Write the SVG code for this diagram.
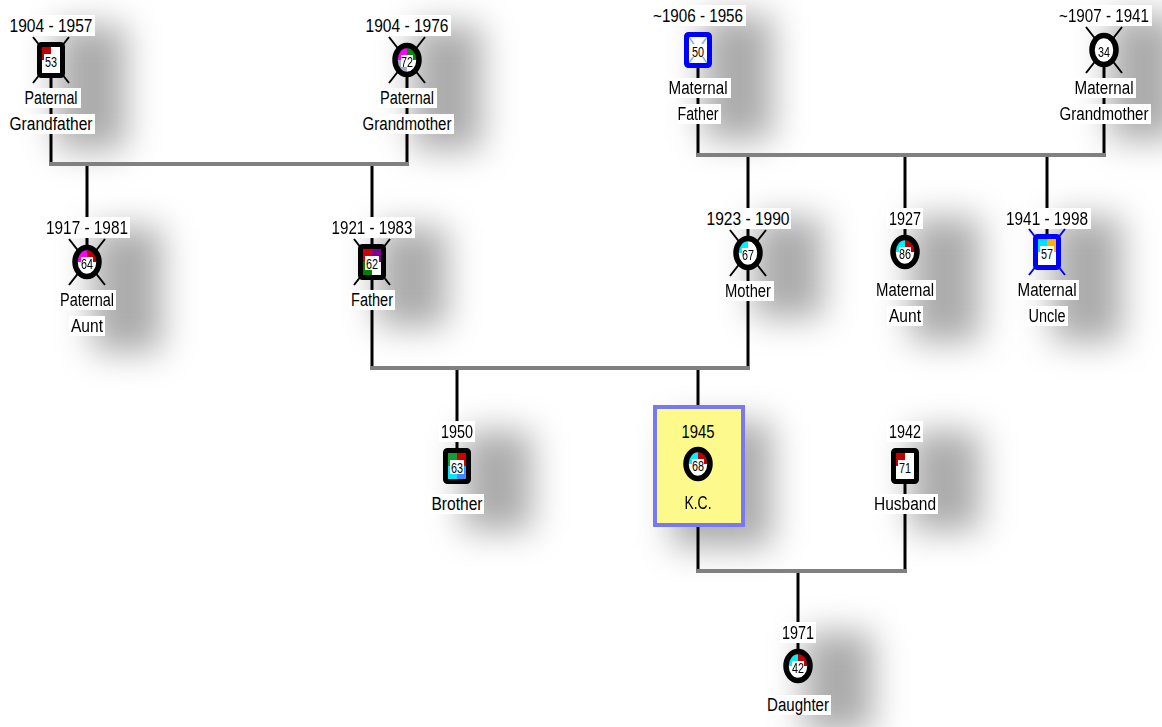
<svg xmlns="http://www.w3.org/2000/svg" xmlns:xlink="http://www.w3.org/1999/xlink" width="1162" height="727" viewBox="0 0 1162 727">
<defs>
<style>
.t{font-family:"Liberation Sans Narrow","Liberation Sans",Arial,sans-serif;font-size:18px;text-anchor:middle;fill:#000}
.n{font-family:"Liberation Sans Narrow","Liberation Sans",Arial,sans-serif;font-size:15px;text-anchor:middle;fill:#000}
.lb{fill:#fff}
.v{stroke:#000;stroke-width:3;fill:none}
.h{stroke:#808080;stroke-width:4;fill:none}
.x{stroke:#000;stroke-width:2}
.xb{stroke:#0000ff;stroke-width:2}
.mb{fill:none;stroke:#000;stroke-width:5}
.bb{fill:none;stroke:#0000ff;stroke-width:5}
.fb{fill:none;stroke:#000;stroke-width:5.5}
.sh{fill:#000;opacity:.33}
.wf{fill:#fff}
</style>
<filter id="blur" x="-100%" y="-60%" width="300%" height="220%"><feGaussianBlur stdDeviation="17"/></filter>
<clipPath id="fc"><ellipse cx="0" cy="0" rx="9.5" ry="12"/></clipPath>
<g id="xm"><line x1="-18" y1="-23" x2="18" y2="23"/><line x1="18" y1="-23" x2="-18" y2="23"/></g>
</defs>
<rect width="1162" height="727" fill="#fff"/>

<g id="shadows" filter="url(#blur)">
<rect class="sh" x="56" y="25" width="70" height="125"/>
<rect class="sh" x="412" y="25" width="70" height="125"/>
<rect class="sh" x="703" y="15" width="70" height="125"/>
<rect class="sh" x="1109" y="15" width="70" height="125"/>
<rect class="sh" x="92" y="227" width="70" height="125"/>
<rect class="sh" x="377" y="227" width="70" height="100"/>
<rect class="sh" x="753" y="218" width="70" height="100"/>
<rect class="sh" x="910" y="217" width="70" height="125"/>
<rect class="sh" x="1052" y="217" width="70" height="125"/>
<rect class="sh" x="462" y="431" width="70" height="100"/>
<rect class="sh" x="672" y="422" width="100" height="125"/>
<rect class="sh" x="910" y="431" width="70" height="100"/>
<rect class="sh" x="803" y="632" width="70" height="100"/>
</g>

<g id="connectors">
<line class="v" x1="51" y1="60" x2="51" y2="164"/>
<line class="v" x1="407" y1="60" x2="407" y2="164"/>
<line class="v" x1="87" y1="164" x2="87" y2="262"/>
<line class="v" x1="372" y1="164" x2="372" y2="368"/>
<line class="h" x1="49" y1="164" x2="409" y2="164"/>
<line class="v" x1="698" y1="50" x2="698" y2="155"/>
<line class="v" x1="1104" y1="50" x2="1104" y2="155"/>
<line class="v" x1="748" y1="155" x2="748" y2="368"/>
<line class="v" x1="905" y1="155" x2="905" y2="252"/>
<line class="v" x1="1047" y1="155" x2="1047" y2="252"/>
<line class="h" x1="696" y1="155" x2="1106" y2="155"/>
<line class="v" x1="457" y1="368" x2="457" y2="466"/>
<line class="v" x1="698" y1="368" x2="698" y2="406"/>
<line class="h" x1="370" y1="368" x2="750" y2="368"/>
<line class="v" x1="698" y1="526" x2="698" y2="571"/>
<line class="v" x1="905" y1="466" x2="905" y2="571"/>
<line class="v" x1="798" y1="571" x2="798" y2="667"/>
<line class="h" x1="696" y1="571" x2="907" y2="571"/>
</g>

<g id="paternal-grandfather">
<rect class="lb" x="8" y="15" width="87" height="21"/>
<text class="t" x="51" y="31.5" textLength="83" lengthAdjust="spacingAndGlyphs">1904 - 1957</text>
<g transform="translate(51,60)">
<use href="#xm" class="x"/>
<rect class="wf" x="-9" y="-13" width="18" height="26"/>
<rect x="-9" y="-13" width="9" height="13" fill="#c00000"/>
<rect class="mb" x="-11.5" y="-15.5" width="23" height="31" rx="2"/>
<rect class="lb" x="-7" y="-6" width="14" height="14"/>
<text class="n" x="0" y="6.5" textLength="12" lengthAdjust="spacingAndGlyphs">53</text>
</g>
<rect class="lb" x="24" y="88" width="57" height="20"/>
<text class="t" x="51" y="104" textLength="53" lengthAdjust="spacingAndGlyphs">Paternal</text>
<rect class="lb" x="8" y="114" width="87" height="20"/>
<text class="t" x="51" y="130" textLength="83" lengthAdjust="spacingAndGlyphs">Grandfather</text>
</g>

<g id="paternal-grandmother">
<rect class="lb" x="364" y="15" width="87" height="21"/>
<text class="t" x="407" y="31.5" textLength="83" lengthAdjust="spacingAndGlyphs">1904 - 1976</text>
<g transform="translate(407,60)">
<use href="#xm" class="x"/>
<g clip-path="url(#fc)">
<rect class="wf" x="-10" y="-12" width="20" height="24"/>
<rect x="-10" y="-12" width="10" height="12" fill="#ff00ff"/>
<rect x="0" y="-12" width="10" height="12" fill="#009000"/>
<rect x="-10" y="0" width="10" height="12" fill="#a4acc8"/>
</g>
<ellipse class="fb" rx="12" ry="14.5"/>
<rect class="lb" x="-6" y="-5" width="12" height="12"/>
<text class="n" x="0" y="6.5" textLength="12" lengthAdjust="spacingAndGlyphs">72</text>
</g>
<rect class="lb" x="379" y="88" width="58" height="20"/>
<text class="t" x="407" y="104" textLength="54" lengthAdjust="spacingAndGlyphs">Paternal</text>
<rect class="lb" x="361" y="114" width="93" height="20"/>
<text class="t" x="407" y="130" textLength="89" lengthAdjust="spacingAndGlyphs">Grandmother</text>
</g>

<g id="maternal-father">
<rect class="lb" x="652" y="5" width="94" height="21"/>
<text class="t" x="698" y="21.5" textLength="90" lengthAdjust="spacingAndGlyphs">~1906 - 1956</text>
<g transform="translate(698,50)">
<rect class="wf" x="-9" y="-13" width="18" height="26"/>
<line x1="-9" y1="-13" x2="9" y2="13" stroke="#80b4ff" stroke-width="1.5"/>
<line x1="9" y1="-13" x2="-9" y2="13" stroke="#80b4ff" stroke-width="1.5"/>
<rect class="bb" x="-11.5" y="-15.5" width="23" height="31" rx="2"/>
<rect class="lb" x="-6.5" y="-6" width="13" height="13"/>
<text class="n" x="0" y="6.5" textLength="12" lengthAdjust="spacingAndGlyphs">50</text>
</g>
<rect class="lb" x="668" y="78" width="63" height="20"/>
<text class="t" x="698" y="94" textLength="59" lengthAdjust="spacingAndGlyphs">Maternal</text>
<rect class="lb" x="677" y="104" width="44" height="20"/>
<text class="t" x="698" y="120" textLength="41" lengthAdjust="spacingAndGlyphs">Father</text>
</g>

<g id="maternal-grandmother">
<rect class="lb" x="1058" y="5" width="94" height="21"/>
<text class="t" x="1104" y="21.5" textLength="90" lengthAdjust="spacingAndGlyphs">~1907 - 1941</text>
<g transform="translate(1104,50)">
<use href="#xm" class="x"/>
<ellipse class="wf" rx="10" ry="12.5"/>
<ellipse class="fb" rx="12" ry="14.5"/>
<text class="n" x="0" y="6.5" textLength="12" lengthAdjust="spacingAndGlyphs">34</text>
</g>
<rect class="lb" x="1073" y="78" width="63" height="20"/>
<text class="t" x="1104" y="94" textLength="59" lengthAdjust="spacingAndGlyphs">Maternal</text>
<rect class="lb" x="1058" y="104" width="93" height="20"/>
<text class="t" x="1104" y="120" textLength="89" lengthAdjust="spacingAndGlyphs">Grandmother</text>
</g>

<g id="paternal-aunt">
<rect class="lb" x="44" y="217" width="86" height="21"/>
<text class="t" x="87" y="233.5" textLength="82" lengthAdjust="spacingAndGlyphs">1917 - 1981</text>
<g transform="translate(87,262)">
<use href="#xm" class="x"/>
<g clip-path="url(#fc)">
<rect class="wf" x="-10" y="-12" width="20" height="24"/>
<rect x="-10" y="-12" width="10" height="12" fill="#ff00ff"/>
<rect x="0" y="-12" width="10" height="12" fill="#c00000"/>
</g>
<ellipse class="fb" rx="12" ry="14.5"/>
<rect class="lb" x="-6" y="-5" width="12" height="12"/>
<text class="n" x="0" y="6.5" textLength="12" lengthAdjust="spacingAndGlyphs">64</text>
</g>
<rect class="lb" x="58" y="290" width="58" height="20"/>
<text class="t" x="87" y="306" textLength="54" lengthAdjust="spacingAndGlyphs">Paternal</text>
<rect class="lb" x="69" y="316" width="36" height="20"/>
<text class="t" x="87" y="332" textLength="32" lengthAdjust="spacingAndGlyphs">Aunt</text>
</g>

<g id="father">
<rect class="lb" x="329" y="217" width="86" height="21"/>
<text class="t" x="372" y="233.5" textLength="81" lengthAdjust="spacingAndGlyphs">1921 - 1983</text>
<g transform="translate(372,262)">
<use href="#xm" class="x"/>
<rect class="wf" x="-9" y="-13" width="18" height="26"/>
<rect x="-9" y="-13" width="9" height="13" fill="#d00000"/>
<rect x="0" y="-13" width="9" height="13" fill="#800090"/>
<rect x="-9" y="0" width="9" height="13" fill="#008000"/>
<rect class="mb" x="-11.5" y="-15.5" width="23" height="31" rx="2"/>
<rect class="lb" x="-7" y="-6" width="14" height="14"/>
<text class="n" x="0" y="6.5" textLength="12" lengthAdjust="spacingAndGlyphs">62</text>
</g>
<rect class="lb" x="349" y="290" width="46" height="20"/>
<text class="t" x="372" y="306" textLength="42" lengthAdjust="spacingAndGlyphs">Father</text>
</g>

<g id="mother">
<rect class="lb" x="705" y="208" width="86" height="21"/>
<text class="t" x="748" y="224.5" textLength="83" lengthAdjust="spacingAndGlyphs">1923 - 1990</text>
<g transform="translate(748,253)">
<use href="#xm" class="x"/>
<g clip-path="url(#fc)">
<rect class="wf" x="-10" y="-12" width="20" height="24"/>
<rect x="-10" y="-12" width="10" height="12" fill="#00f0ff"/>
</g>
<ellipse class="fb" rx="12" ry="14.5"/>
<rect class="lb" x="-6" y="-5" width="12" height="12"/>
<text class="n" x="0" y="6.5" textLength="12" lengthAdjust="spacingAndGlyphs">67</text>
</g>
<rect class="lb" x="724" y="281" width="50" height="20"/>
<text class="t" x="748" y="297" textLength="46" lengthAdjust="spacingAndGlyphs">Mother</text>
</g>

<g id="maternal-aunt">
<rect class="lb" x="887" y="208" width="36" height="21"/>
<text class="t" x="905" y="224.5" textLength="32" lengthAdjust="spacingAndGlyphs">1927</text>
<g transform="translate(905,252)">
<g clip-path="url(#fc)">
<rect class="wf" x="-10" y="-12" width="20" height="24"/>
<rect x="-10" y="-12" width="10" height="12" fill="#00f0ff"/>
<rect x="0" y="-12" width="10" height="12" fill="#c00000"/>
</g>
<ellipse class="fb" rx="12" ry="14.5"/>
<rect class="lb" x="-6" y="-5" width="12" height="12"/>
<text class="n" x="0" y="6.5" textLength="12" lengthAdjust="spacingAndGlyphs">86</text>
</g>
<rect class="lb" x="874" y="280" width="62" height="20"/>
<text class="t" x="905" y="296" textLength="58" lengthAdjust="spacingAndGlyphs">Maternal</text>
<rect class="lb" x="887" y="306" width="36" height="20"/>
<text class="t" x="905" y="322" textLength="32" lengthAdjust="spacingAndGlyphs">Aunt</text>
</g>

<g id="maternal-uncle">
<rect class="lb" x="1005" y="208" width="86" height="21"/>
<text class="t" x="1047" y="224.5" textLength="82" lengthAdjust="spacingAndGlyphs">1941 - 1998</text>
<g transform="translate(1047,252)">
<use href="#xm" class="xb"/>
<rect class="wf" x="-9" y="-13" width="18" height="26"/>
<rect x="-9" y="-13" width="9" height="13" fill="#00e0ff"/>
<rect x="0" y="-13" width="9" height="13" fill="#ffb000"/>
<rect class="bb" x="-11.5" y="-15.5" width="23" height="31" rx="2"/>
<rect class="lb" x="-7" y="-6" width="14" height="14"/>
<text class="n" x="0" y="6.5" textLength="12" lengthAdjust="spacingAndGlyphs">57</text>
</g>
<rect class="lb" x="1016" y="280" width="63" height="20"/>
<text class="t" x="1047" y="296" textLength="59" lengthAdjust="spacingAndGlyphs">Maternal</text>
<rect class="lb" x="1027" y="306" width="41" height="20"/>
<text class="t" x="1047" y="322" textLength="37" lengthAdjust="spacingAndGlyphs">Uncle</text>
</g>

<g id="brother">
<rect class="lb" x="439" y="421" width="36" height="21"/>
<text class="t" x="457" y="437.5" textLength="32" lengthAdjust="spacingAndGlyphs">1950</text>
<g transform="translate(457,466)">
<rect class="wf" x="-9" y="-13" width="18" height="26"/>
<rect x="-9" y="-13" width="9" height="13" fill="#10a030"/>
<rect x="0" y="-13" width="9" height="13" fill="#d00000"/>
<rect x="-9" y="0" width="9" height="13" fill="#00e8ff"/>
<rect x="0" y="0" width="9" height="13" fill="#3c8cff"/>
<rect class="mb" x="-11.5" y="-15.5" width="23" height="31" rx="2"/>
<rect class="lb" x="-7" y="-6" width="14" height="14"/>
<text class="n" x="0" y="6.5" textLength="12" lengthAdjust="spacingAndGlyphs">63</text>
</g>
<rect class="lb" x="429" y="494" width="55" height="20"/>
<text class="t" x="457" y="510" textLength="51" lengthAdjust="spacingAndGlyphs">Brother</text>
</g>

<g id="kc">
<rect x="655" y="407" width="88" height="118" fill="#fdf98a" stroke="#7878f0" stroke-width="4"/>
<text class="t" x="698" y="437.5" textLength="33" lengthAdjust="spacingAndGlyphs">1945</text>
<g transform="translate(698,464)">
<g clip-path="url(#fc)">
<rect class="wf" x="-10" y="-12" width="20" height="24"/>
<rect x="-10" y="-12" width="10" height="12" fill="#00f0ff"/>
<rect x="0" y="-12" width="10" height="12" fill="#c00000"/>
</g>
<ellipse class="fb" rx="12" ry="14.5"/>
<rect class="lb" x="-6" y="-5" width="12" height="12"/>
<text class="n" x="0" y="6.5" textLength="12" lengthAdjust="spacingAndGlyphs">68</text>
</g>
<text class="t" x="698" y="508.5" textLength="27" lengthAdjust="spacingAndGlyphs">K.C.</text>
</g>

<g id="husband">
<rect class="lb" x="887" y="421" width="36" height="21"/>
<text class="t" x="905" y="437.5" textLength="32" lengthAdjust="spacingAndGlyphs">1942</text>
<g transform="translate(905,466)">
<rect class="wf" x="-9" y="-13" width="18" height="26"/>
<rect x="-9" y="-13" width="9" height="13" fill="#c00000"/>
<rect class="mb" x="-11.5" y="-15.5" width="23" height="31" rx="2"/>
<rect class="lb" x="-7" y="-6" width="14" height="14"/>
<text class="n" x="0" y="6.5" textLength="12" lengthAdjust="spacingAndGlyphs">71</text>
</g>
<rect class="lb" x="872" y="494" width="66" height="20"/>
<text class="t" x="905" y="510" textLength="62" lengthAdjust="spacingAndGlyphs">Husband</text>
</g>

<g id="daughter">
<rect class="lb" x="780" y="622" width="36" height="21"/>
<text class="t" x="798" y="638.5" textLength="32" lengthAdjust="spacingAndGlyphs">1971</text>
<g transform="translate(798,666)">
<g clip-path="url(#fc)">
<rect class="wf" x="-10" y="-12" width="20" height="24"/>
<rect x="-10" y="-12" width="10" height="12" fill="#00f0ff"/>
<rect x="0" y="-12" width="10" height="12" fill="#c00000"/>
</g>
<ellipse class="fb" rx="12" ry="14.5"/>
<rect class="lb" x="-6" y="-5" width="12" height="12"/>
<text class="n" x="0" y="6.5" textLength="12" lengthAdjust="spacingAndGlyphs">42</text>
</g>
<rect class="lb" x="765" y="695" width="66" height="20"/>
<text class="t" x="798" y="711" textLength="62" lengthAdjust="spacingAndGlyphs">Daughter</text>
</g>
</svg>
